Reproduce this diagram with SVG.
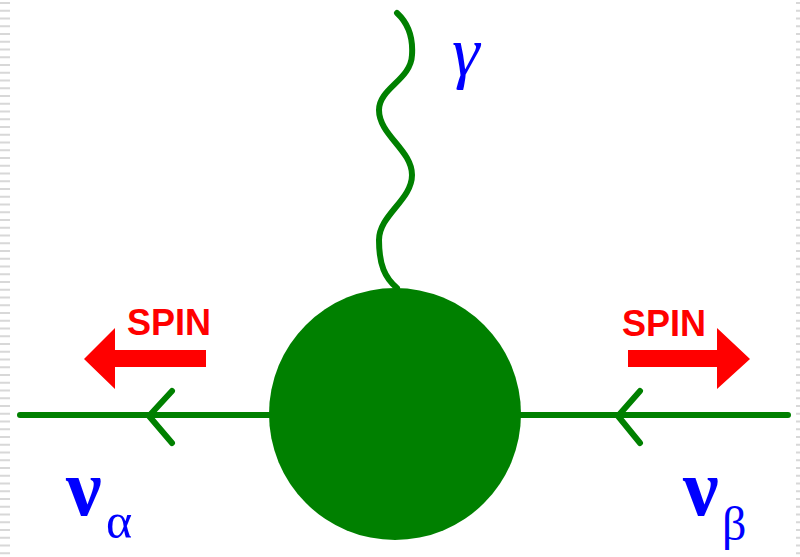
<svg xmlns="http://www.w3.org/2000/svg" width="800" height="557" viewBox="0 0 800 557">
<style>
.green{stroke:#008000;fill:none;stroke-width:6;stroke-linecap:round;stroke-linejoin:round}
.spin{font-family:"Liberation Sans",Arial,sans-serif;font-weight:bold;font-size:36px;fill:#ff0000}
.greek{font-family:"Liberation Serif","Times New Roman",serif;fill:#0000ff}
.red{fill:#ff0000}
.edge{stroke:#d8d8d8;stroke-dasharray:2 5.75;fill:none}
</style>
<rect width="800" height="557" fill="#ffffff"/>
<line class="edge" x1="5" y1="2" x2="5" y2="557" stroke-width="10"/>
<line class="edge" x1="798" y1="2" x2="798" y2="557" stroke-width="4"/>
<g id="connectors">
<line class="green" x1="20" y1="415" x2="788" y2="415"/>
<polyline class="green" points="172,391 149,416 172,443" stroke-linecap="butt"/>
<polyline class="green" points="640,391 618,416 640,443" stroke-linecap="butt"/>
<path class="green" stroke-width="7.5" d="M397,13 C410,25 413,40 412,55 C411,80 379,88 379,110 C379,135 412,150 412,175 C412,200 379,215 379,240 C379,265 385,278 397,288"/>
</g>
<g id="vertex">
<circle cx="395" cy="414" r="126" fill="#008000"/>
</g>
<g id="photon-label">
<text class="greek" x="452" y="75" font-size="70" font-style="italic">γ</text>
</g>
<g id="spin-left">
<polygon class="red" points="84,359 115,328 115,350 206,350 206,367 115,367 115,389"/>
<text class="spin" x="127" y="335">SPIN</text>
</g>
<g id="spin-right">
<polygon class="red" points="750,359 717,328 717,350 628,350 628,367 717,367 717,389"/>
<text class="spin" x="622" y="336">SPIN</text>
</g>
<g id="nu-alpha">
<text class="greek" x="66" y="515" font-size="80" font-weight="bold">ν</text>
<text class="greek" x="106" y="538" font-size="50">α</text>
</g>
<g id="nu-beta">
<text class="greek" x="683" y="515" font-size="80" font-weight="bold">ν</text>
<text class="greek" x="722" y="540" font-size="48">β</text>
</g>
</svg>
